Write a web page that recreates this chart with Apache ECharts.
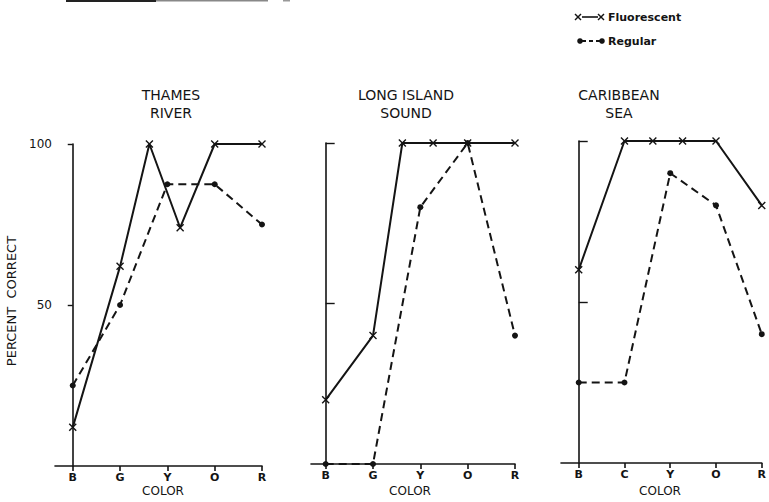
<!DOCTYPE html>
<html>
<head>
<meta charset="utf-8">
<script src="https://cdn.jsdelivr.net/npm/echarts@6/dist/echarts.min.js"></script>
<style>
    html, body { margin: 0; padding: 0; background: #fff; }
    #chart { width: 769px; height: 502px; }
</style>
</head>
<body>
<div id="chart"></div>
<script>
    // panel titles and category labels
    var panelTitles = ['THAMES\nRIVER', 'LONG ISLAND\nSOUND', 'CARIBBEAN\nSEA'];
    var colorLabels = [
        ['B', 'G', 'Y', 'O', 'R'],
        ['B', 'G', 'Y', 'O', 'R'],
        ['B', 'C', 'Y', 'O', 'R']
    ];
    var yTickValues = [50, 100];

    // fluorescent colours sit at shifted hue positions between the categories
    var fluorX = [0, 1, 1.62, 2.27, 3, 4];
    var fluorThames = [12, 62, 100, 74, 100, 100];
    var fluorLongIsland = [20, 40, 100, 100, 100, 100];
    var fluorCaribbean = [60, 100, 100, 100, 100, 80];

    var regularX = [0, 1, 2, 3, 4];
    var regularThames = [25, 50, 87.5, 87.5, 75];
    var regularLongIsland = [0, 0, 80, 100, 40];
    var regularCaribbean = [25, 25, 90, 80, 40];

    var fluor = [fluorThames, fluorLongIsland, fluorCaribbean];
    var regular = [regularThames, regularLongIsland, regularCaribbean];

    var ink = '#141414';
    var font = "'DejaVu Sans', sans-serif";
    var xMark = 'path://M0,0L10,10M10,0L0,10';

    var grids = [
        {left: 55, top: 144, width: 207, height: 322, min: -0.375},
        {left: 311, top: 143, width: 204, height: 321, min: -0.31},
        {left: 561, top: 141, width: 207.5, height: 322, min: -0.387}
    ];

    function pairs(xs, ys) {
        return ys.map(function (v, i) { return [xs[i], v]; });
    }

    function crossMark(cx, cy, r) {
        return [
            {type: 'line', shape: {x1: cx - r, y1: cy - r, x2: cx + r, y2: cy + r}, style: {stroke: ink, lineWidth: 1.4}},
            {type: 'line', shape: {x1: cx + r, y1: cy - r, x2: cx - r, y2: cy + r}, style: {stroke: ink, lineWidth: 1.4}}
        ];
    }

    var option = {
        animation: false,
        backgroundColor: '#fff',
        grid: grids.map(function (g) {
            return {left: g.left, top: g.top, width: g.width, height: g.height, containLabel: false};
        }),
        xAxis: grids.map(function (g, i) {
            return {
                type: 'value',
                gridIndex: i,
                min: g.min,
                max: 4,
                axisLine: {show: true, lineStyle: {color: ink, width: 1.6}},
                axisTick: {show: true, customValues: [0, 1, 2, 3, 4], length: 5, lineStyle: {color: ink, width: 1.6}},
                axisLabel: {
                    show: true,
                    customValues: [0, 1, 2, 3, 4],
                    formatter: function (v) { return colorLabels[i][Math.round(v)]; },
                    color: ink,
                    fontFamily: font,
                    fontSize: 11,
                    fontWeight: 'bold',
                    margin: 6
                },
                splitLine: {show: false}
            };
        }),
        yAxis: grids.map(function (g, i) {
            return {
                type: 'value',
                gridIndex: i,
                min: 0,
                max: 100,
                axisLine: {show: true, lineStyle: {color: ink, width: 1.6}},
                axisTick: {
                    show: true,
                    customValues: yTickValues,
                    inside: i > 0,
                    length: i > 0 ? 9 : 5,
                    lineStyle: {color: ink, width: 1.4}
                },
                axisLabel: {
                    show: i === 0,
                    customValues: yTickValues,
                    color: ink,
                    fontFamily: font,
                    fontSize: 12,
                    margin: 3
                },
                splitLine: {show: false}
            };
        }),
        series: [],
        graphic: []
    };

    for (var p = 0; p < 3; p++) {
        option.series.push({
            name: 'Fluorescent',
            type: 'line',
            xAxisIndex: p,
            yAxisIndex: p,
            data: pairs(fluorX, fluor[p]),
            symbol: xMark,
            symbolSize: 7,
            showAllSymbol: true,
            clip: false,
            lineStyle: {color: ink, width: 2, type: 'solid'},
            itemStyle: {color: 'transparent', borderColor: ink, borderWidth: 1.4}
        });
        option.series.push({
            name: 'Regular',
            type: 'line',
            xAxisIndex: p,
            yAxisIndex: p,
            data: pairs(regularX, regular[p]),
            symbol: 'circle',
            symbolSize: 6,
            showAllSymbol: true,
            clip: false,
            lineStyle: {color: ink, width: 2, type: [8, 5]},
            itemStyle: {color: ink, borderWidth: 0}
        });
    }

    // titles
    var titleX = [171, 406, 619];
    panelTitles.forEach(function (t, i) {
        option.graphic.push({
            type: 'text',
            x: titleX[i],
            y: 86,
            style: {text: t, textAlign: 'center', fill: ink, font: '14px ' + font, lineHeight: 18, letterSpacing: 1}
        });
    });

    // x axis names
    [163, 410, 660].forEach(function (cx) {
        option.graphic.push({
            type: 'text',
            x: cx,
            y: 485,
            style: {text: 'COLOR', textAlign: 'center', fill: ink, font: '12px ' + font}
        });
    });

    // y axis name
    option.graphic.push({
        type: 'text',
        x: 11,
        y: 301,
        rotation: Math.PI / 2,
        style: {text: 'PERCENT  CORRECT', textAlign: 'center', textVerticalAlign: 'middle', fill: ink, font: '13px ' + font}
    });

    // legend
    option.graphic = option.graphic.concat(
        [{type: 'line', shape: {x1: 582, y1: 17, x2: 598, y2: 17}, style: {stroke: ink, lineWidth: 1.6}}],
        crossMark(578, 17, 3),
        crossMark(601, 17, 3),
        [
            {type: 'text', x: 608, y: 17, style: {text: 'Fluorescent', fill: ink, font: 'bold 11px ' + font, textVerticalAlign: 'middle'}},
            {type: 'circle', shape: {cx: 580, cy: 41, r: 2.8}, style: {fill: ink}},
            {type: 'line', shape: {x1: 582, y1: 41, x2: 601, y2: 41}, style: {stroke: ink, lineWidth: 1.8, lineDash: [4, 3]}},
            {type: 'circle', shape: {cx: 602, cy: 41, r: 2.8}, style: {fill: ink}},
            {type: 'text', x: 608, y: 41, style: {text: 'Regular', fill: ink, font: 'bold 11px ' + font, textVerticalAlign: 'middle'}}
        ]
    );

    // cropped rule at the very top of the scan
    option.graphic.push(
        {type: 'rect', shape: {x: 66, y: 0, width: 90, height: 2}, style: {fill: '#222'}},
        {type: 'rect', shape: {x: 156, y: 0, width: 112, height: 1.5}, style: {fill: '#888'}},
        {type: 'rect', shape: {x: 283, y: 0, width: 7, height: 1.5}, style: {fill: '#999'}}
    );

    var chart = echarts.init(document.getElementById('chart'), null, {renderer: 'svg'});
    chart.setOption(option);
</script>
</body>
</html>
